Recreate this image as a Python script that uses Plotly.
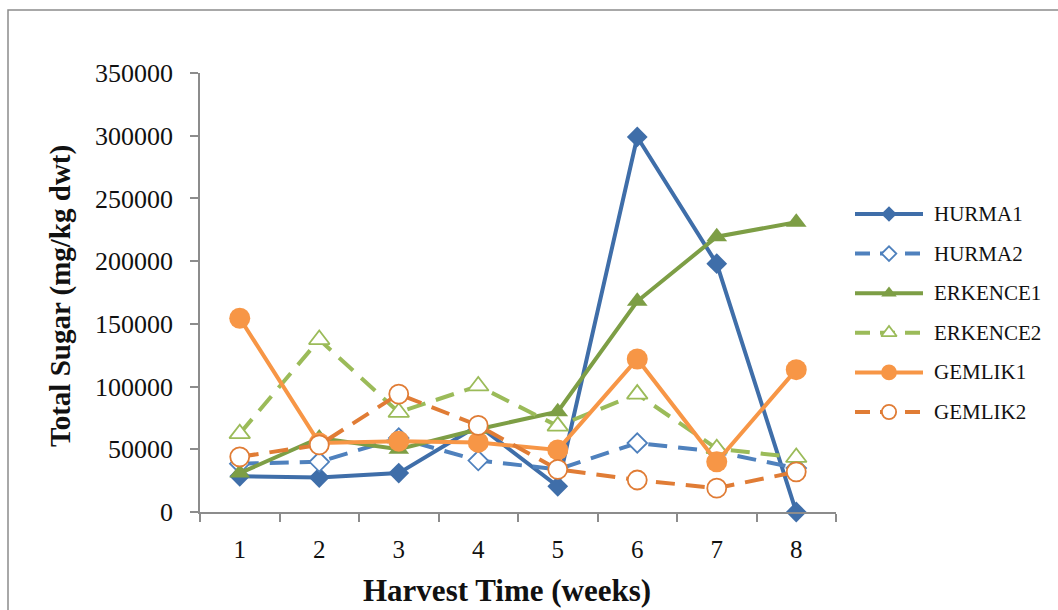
import plotly.graph_objects as go

W, H = 1058, 610

weeks = ["1", "2", "3", "4", "5", "6", "7", "8"]
series_names = ["HURMA1", "HURMA2", "ERKENCE1", "ERKENCE2", "GEMLIK1", "GEMLIK2"]

hurma1 = [28500, 27500, 31000, 69000, 20500, 299000, 198000, 0]
hurma2 = [38500, 40000, 59000, 41000, 34000, 55000, 48000, 35000]
erkence1 = [31000, 59000, 50000, 66000, 80000, 168000, 219500, 231000]
erkence2 = [62500, 137500, 79500, 100500, 68500, 94000, 50500, 43500]
gemlik1 = [154500, 55000, 56500, 55500, 49500, 122000, 40000, 113500]
gemlik2 = [44000, 53500, 94000, 69000, 34000, 25500, 19000, 32000]

y_ticks = [0, 50000, 100000, 150000, 200000, 250000, 300000, 350000]

values = [hurma1, hurma2, erkence1, erkence2, gemlik1, gemlik2]

# per-series style: colour, dash, marker symbol, filled marker?, marker size
styles = [
    dict(color="#3F6EA9", dash="solid", symbol="diamond", filled=True, size=16),
    dict(color="#4F81BD", dash="19px,11px", symbol="diamond", filled=False, size=15),
    dict(color="#7D9E45", dash="solid", symbol="triangle-up", filled=True, size=18),
    dict(color="#9BBB59", dash="19px,11px", symbol="triangle-up", filled=False, size=18),
    dict(color="#F79646", dash="solid", symbol="circle", filled=True, size=21),
    dict(color="#E07C35", dash="19px,11px", symbol="circle", filled=False, size=19),
]

SERIF = "Liberation Serif, Times New Roman, serif"
GRAY = "#8C8C8C"

# plot-area placement in pixels
PL, PR, PT, PB = 200, 836, 73, 512


def fx(px):
    return px / W


def fy(py):
    return 1 - py / H


fig = go.Figure()

for name, vals, st in zip(series_names, values, styles):
    fig.add_trace(go.Scatter(
        x=weeks, y=vals, name=name, mode="lines+markers",
        line=dict(color=st["color"], width=4, dash=st["dash"]),
        marker=dict(
            symbol=st["symbol"], size=st["size"],
            color=st["color"] if st["filled"] else "white",
            line=dict(color=st["color"], width=0 if st["filled"] else 1.8),
        ),
        cliponaxis=False, showlegend=False,
    ))

# legend keys drawn on a small overlay axis
for i, (name, st) in enumerate(zip(series_names, styles)):
    fig.add_trace(go.Scatter(
        x=[0, 0.5, 1], y=[i, i, i], mode="lines+markers",
        xaxis="x2", yaxis="y2",
        line=dict(color=st["color"], width=4, dash=st["dash"] if st["dash"] == "solid" else "15px,10px"),
        marker=dict(
            symbol=st["symbol"], size=st["size"] * 0.75,
            color=st["color"] if st["filled"] else "white",
            line=dict(color=st["color"], width=0 if st["filled"] else 1.8),
            opacity=[0, 1, 0],
        ),
        cliponaxis=False, showlegend=False, hoverinfo="skip",
    ))
    fig.add_annotation(
        x=fx(932), y=i, xref="paper", yref="y2", text=name, showarrow=False,
        xanchor="left", yanchor="middle", font=dict(family=SERIF, size=21, color="#111"),
    )

ROW0, ROWSTEP = 214, 39.6

fig.update_layout(
    template="none",
    width=W, height=H,
    margin=dict(l=0, r=0, t=0, b=0, pad=0, autoexpand=False),
    paper_bgcolor="white", plot_bgcolor="white",
    xaxis=dict(
        type="category", domain=[fx(PL), fx(PR)], automargin=False,
        range=[-0.5, len(weeks) - 0.5],
        showline=True, linecolor=GRAY, linewidth=1.5,
        ticks="outside", tickson="boundaries", ticklen=8, tickcolor=GRAY, tickwidth=1.5,
        showgrid=False, zeroline=False,
        tickfont=dict(family=SERIF, size=25, color="#111"),
        ticklabelstandoff=14,
    ),
    yaxis=dict(
        domain=[fy(PB), fy(PT)], range=[0, 350000], automargin=False,
        tickvals=y_ticks, ticktext=[str(v) for v in y_ticks],
        showline=True, linecolor=GRAY, linewidth=1.5,
        ticks="outside", ticklen=8, tickcolor=GRAY, tickwidth=1.5,
        showgrid=False, zeroline=False,
        tickfont=dict(family=SERIF, size=26, color="#111"),
        ticklabelstandoff=12,
    ),
    xaxis2=dict(domain=[fx(855), fx(923)], range=[0, 1], visible=False, fixedrange=True, automargin=False),
    yaxis2=dict(
        domain=[fy(ROW0 + 5.5 * ROWSTEP), fy(ROW0 - 0.5 * ROWSTEP)],
        range=[5.5, -0.5], visible=False, fixedrange=True, anchor="x2", automargin=False,
    ),
    showlegend=False,
    shapes=[dict(
        type="rect", xref="paper", yref="paper",
        x0=fx(8), y0=fy(640), x1=fx(1090), y1=fy(10),
        line=dict(color=GRAY, width=1.5), fillcolor="rgba(0,0,0,0)", layer="below",
    )],
)

fig.add_annotation(
    x=fx(507), y=fy(590), xref="paper", yref="paper", text="<b>Harvest Time (weeks)</b>",
    showarrow=False, xanchor="center", yanchor="middle",
    font=dict(family=SERIF, size=31, color="#111"),
)
fig.add_annotation(
    x=fx(60), y=fy(296), xref="paper", yref="paper", text="<b>Total Sugar (mg/kg dwt)</b>",
    showarrow=False, xanchor="center", yanchor="middle", textangle=-90,
    font=dict(family=SERIF, size=29, color="#111"),
)

fig.write_html("out.html")
